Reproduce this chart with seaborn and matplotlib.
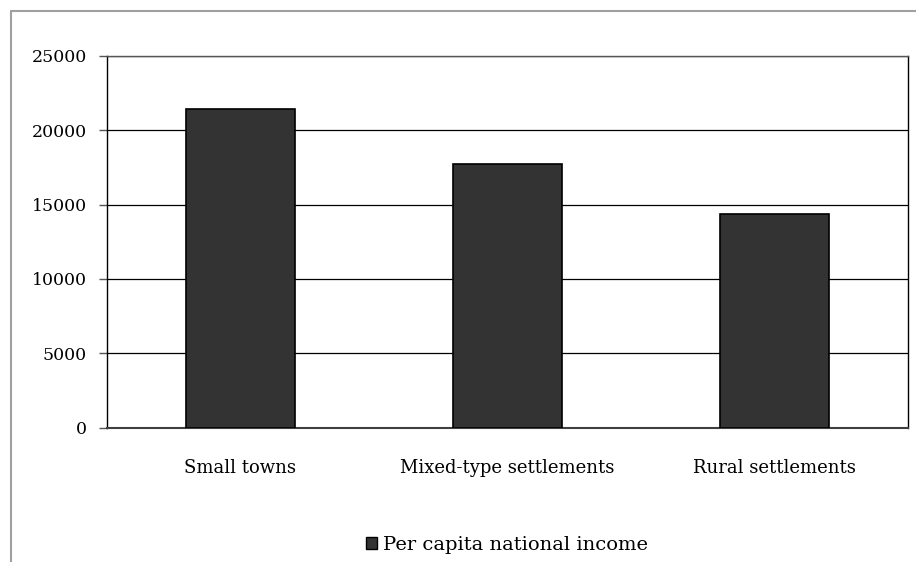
import matplotlib
matplotlib.use("Agg")
import matplotlib.pyplot as plt
from matplotlib.lines import Line2D
import seaborn as sns
import pandas as pd

categories = ["Small towns", "Mixed-type settlements", "Rural settlements"]
values = [21400, 17750, 14350]
series_name = "Per capita national income"
y_ticks = [0, 5000, 10000, 15000, 20000, 25000]

df = pd.DataFrame({"category": categories, "value": values, "series": [series_name] * len(categories)})

sns.set_theme(style="white")
plt.rcParams["font.family"] = ["DejaVu Serif"]
plt.rcParams["text.color"] = "black"

fig = plt.figure(figsize=(9.16, 5.62), dpi=100)
ax = fig.add_axes([107 / 916, 1 - 427.5 / 562, (908 - 107) / 916, (427.5 - 56) / 562])

sns.barplot(data=df, x="category", y="value", hue="series", palette=["#333333"],
            width=0.41, edgecolor="black", linewidth=1.2, ax=ax, zorder=3, legend=True)

ax.set_ylim(0, 25000)
ax.set_yticks(y_ticks)
ax.set_yticklabels([str(v) for v in y_ticks])
ax.yaxis.grid(True, color="black", linewidth=0.9)
ax.set_axisbelow(True)
ax.set_xlabel("")
ax.set_ylabel("")

for side in ["left", "right", "top"]:
    ax.spines[side].set_visible(True)
    ax.spines[side].set_color("black")
    ax.spines[side].set_linewidth(1.0)
ax.spines["top"].set_color("#555555")
ax.spines["bottom"].set_color("#404040")
ax.spines["bottom"].set_linewidth(1.5)

ax.tick_params(axis="y", which="major", length=5.5, width=1, color="#555555", direction="out",
               left=True, pad=9, labelsize=12.5, labelcolor="black")
ax.tick_params(axis="x", length=0, pad=23, labelsize=13, labelcolor="black")

leg = ax.get_legend()
if leg is not None:
    leg.remove()
handles = [plt.Rectangle((0, 0), 1, 1, facecolor="#333333", edgecolor="black", linewidth=1)]
fig.legend(handles, [series_name], loc="center", bbox_to_anchor=(507 / 916, 1 - 545 / 562),
           frameon=False, fontsize=14, handlelength=0.6, handleheight=0.6, handletextpad=0.3,
           labelcolor="black")

# outer border
fig.add_artist(Line2D([10.5 / 916, 10.5 / 916], [0, 1 - 11 / 562], color="#a0a0a0", lw=1.5,
                      transform=fig.transFigure))
fig.add_artist(Line2D([10.5 / 916, 1], [1 - 11 / 562, 1 - 11 / 562], color="#a0a0a0", lw=1.5,
                      transform=fig.transFigure))

fig.savefig("out.png", dpi=100, facecolor="white")
